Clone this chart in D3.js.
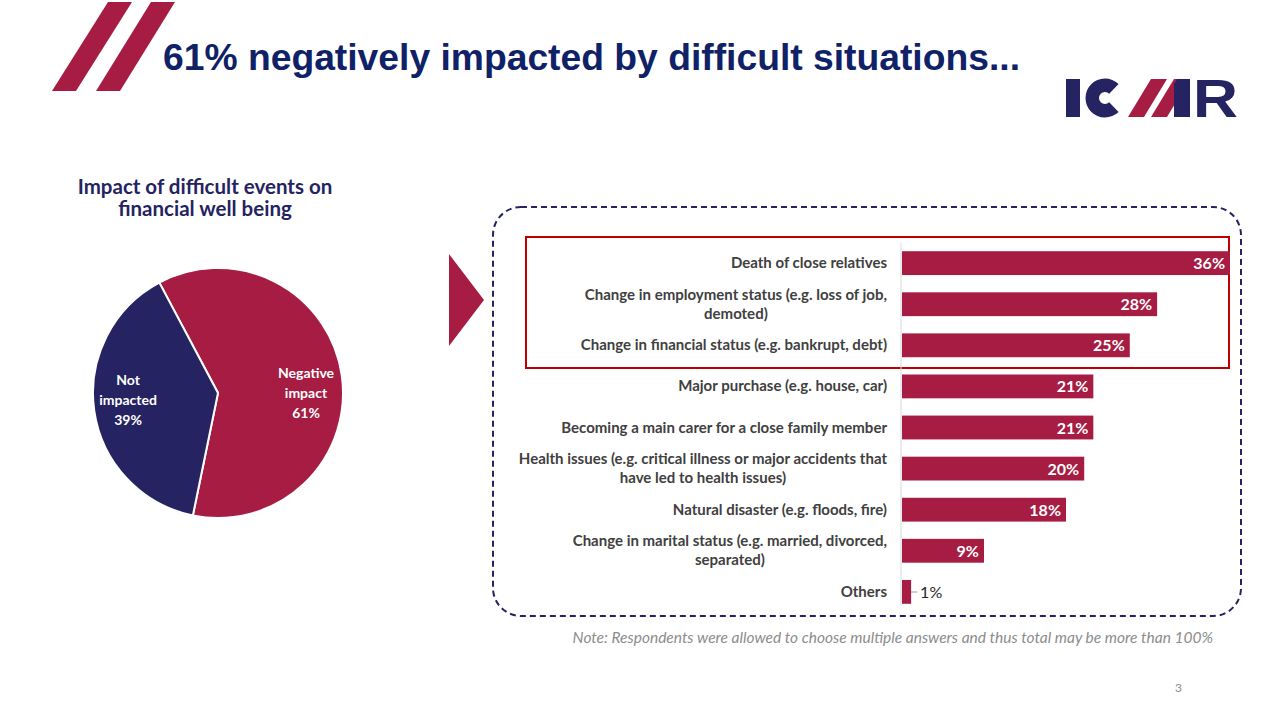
<!DOCTYPE html>
<html><head><meta charset="utf-8">
<script src="https://cdn.jsdelivr.net/npm/d3@7"></script>
<style>body{margin:0;background:#fff}svg{display:block}</style>
</head><body>
<svg id="c" width="1280" height="720"></svg>
<script>
// data
var pieLabels = ["Negative impact", "Not impacted"];
var pieValues = [61, 39];
var events = ["Death of close relatives",
  "Change in employment status (e.g. loss of job,|demoted)",
  "Change in financial status (e.g. bankrupt, debt)",
  "Major purchase (e.g. house, car)",
  "Becoming a main carer for a close family member",
  "Health issues (e.g. critical illness or major accidents that|have led to health issues)",
  "Natural disaster (e.g. floods, fire)",
  "Change in marital status (e.g. married, divorced,|separated)",
  "Others"];
var eventValues = [36, 28, 25, 21, 21, 20, 18, 9, 1];

var red = "#A61C42", navy = "#252361", font = "Lato, 'Open Sans', sans-serif";
var svg = d3.select("#c");

// header stripes
[[52, 108], [96, 151]].forEach(function (s) {
  svg.append("polygon").attr("fill", red)
    .attr("points", [[s[0], 91], [s[0] + 24, 91], [s[1] + 24, 2], [s[1], 2]].join(" "));
});
svg.append("text").attr("x", 163).attr("y", 70).attr("fill", "#0F2167")
  .attr("textLength", 857).attr("lengthAdjust", "spacingAndGlyphs")
  .style("font", "bold 36px Arial, 'Liberation Sans', sans-serif")
  .text("61% negatively impacted by difficult situations...");

// logo
svg.append("rect").attr("x", 1066).attr("y", 79).attr("width", 14).attr("height", 38).attr("fill", navy);
svg.append("path").attr("d", d3.arc()({innerRadius: 6, outerRadius: 19.5, startAngle: Math.PI / 2 + 0.8, endAngle: Math.PI * 2.5 - 0.8}))
  .attr("transform", "translate(1105,98)").attr("fill", navy);
svg.append("polygon").attr("fill", red).attr("points", "1128,117 1144,117 1167,79 1151,79");
svg.append("polygon").attr("fill", red).attr("points", "1151,117 1167,117 1190,79 1174,79");
svg.append("polygon").attr("fill", navy).attr("points", "1177,79 1190,79 1190,117 1174,117 1174,84");
svg.append("text").attr("x", 1193).attr("y", 117).attr("fill", navy)
  .attr("textLength", 45).attr("lengthAdjust", "spacingAndGlyphs")
  .style("font", "bold 53px Arial, 'Liberation Sans', sans-serif").text("R");

// pie
svg.append("text").attr("text-anchor", "middle").attr("fill", navy)
  .style("font", "bold 20.5px " + font)
  .selectAll("tspan").data(["Impact of difficult events on", "financial well being"]).enter()
  .append("tspan").attr("x", 205).attr("y", 194).attr("dy", function (d, i) { return i * 22; }).text(function (d) { return d; });

var cx = 218, cy = 393, r = 125;
var pie = d3.pie().sort(null).startAngle(-28 * Math.PI / 180).endAngle(332 * Math.PI / 180)(pieValues);
var arc = d3.arc().innerRadius(0).outerRadius(r);
var pg = svg.append("g").attr("transform", "translate(" + cx + "," + cy + ")");
pg.selectAll("path").data(pie).enter().append("path").attr("d", arc)
  .attr("fill", function (d, i) { return i ? navy : red; })
  .attr("stroke", "#fff").attr("stroke-width", 2);
var labelPos = [[88, -15], [-90, -8]];
pg.selectAll("text.pl").data(pie).enter().append("text")
  .attr("text-anchor", "middle").attr("fill", "#fff").style("font", "bold 14px " + font)
  .each(function (d, i) {
    var lines = i ? ["Not", "impacted", d.value + "%"] : ["Negative", "impact", d.value + "%"];
    d3.select(this).selectAll("tspan").data(lines).enter().append("tspan")
      .attr("x", labelPos[i][0]).attr("y", function (l, j) { return labelPos[i][1] + j * 20; })
      .text(function (l) { return l; });
  });

// arrow + boxes
svg.append("polygon").attr("fill", red).attr("points", "449,254 484,300 449,346");
svg.append("rect").attr("x", 493).attr("y", 207).attr("width", 748).attr("height", 409).attr("rx", 28)
  .attr("fill", "none").attr("stroke", navy).attr("stroke-width", 2).attr("stroke-dasharray", "6,4");
svg.append("rect").attr("x", 526).attr("y", 237).attr("width", 703).attr("height", 131)
  .attr("fill", "none").attr("stroke", "#C00000").attr("stroke-width", 2);

// bars
var x = d3.scaleLinear().domain([0, 36]).range([901, 1229]);
var y = d3.scaleBand().domain(events).range([243, 612]).paddingInner(0.42).paddingOuter(0.2);
svg.append("line").attr("x1", 901).attr("x2", 901).attr("y1", 243).attr("y2", 605).attr("stroke", "#d9d9d9");
svg.selectAll("rect.bar").data(events).enter().append("rect")
  .attr("x", x(0) + 1).attr("y", function (d) { return y(d); })
  .attr("width", function (d, i) { return x(eventValues[i]) - x(0); })
  .attr("height", y.bandwidth()).attr("fill", red);
svg.selectAll("text.cat").data(events).enter().append("text")
  .attr("fill", "#404040").style("font", "bold 15px " + font)
  .each(function (d) {
    var lines = d.split("|"), yc = y(d) + y.bandwidth() / 2, t = d3.select(this);
    if (lines.length === 1) {
      t.attr("text-anchor", "end").attr("x", 887).attr("y", yc + 5).text(d);
      return;
    }
    var tmp = t.append("tspan").text(lines[0]);
    var w = tmp.node().getComputedTextLength();
    tmp.remove();
    t.attr("text-anchor", "middle");
    t.selectAll("tspan").data(lines).enter().append("tspan")
      .attr("x", 887 - w / 2).attr("y", function (l, j) { return yc + 5 + (j - 0.5) * 19; })
      .text(function (l) { return l; });
  });
svg.selectAll("text.val").data(events).enter().append("text")
  .attr("x", function (d, i) { return eventValues[i] < 5 ? x(eventValues[i]) + 10 : x(eventValues[i]) - 4; })
  .attr("y", function (d) { return y(d) + y.bandwidth() / 2 + 6; })
  .attr("text-anchor", function (d, i) { return eventValues[i] < 5 ? "start" : "end"; })
  .attr("fill", function (d, i) { return eventValues[i] < 5 ? "#262626" : "#fff"; })
  .style("font", function (d, i) { return (eventValues[i] < 5 ? "" : "bold ") + "16px " + font; })
  .text(function (d, i) { return eventValues[i] + "%"; });
svg.append("line").attr("x1", x(1) + 1).attr("x2", x(1) + 7).attr("y1", 592).attr("y2", 592).attr("stroke", "#999");

svg.append("text").attr("x", 1213).attr("y", 643).attr("text-anchor", "end").attr("fill", "#8c8c8c")
  .style("font", "italic 15.5px " + font)
  .text("Note: Respondents were allowed to choose multiple answers and thus total may be more than 100%");
svg.append("text").attr("x", 1182).attr("y", 692).attr("text-anchor", "end").attr("fill", "#8c8c8c")
  .style("font", "12px " + font).text("3");
</script>
</body></html>
